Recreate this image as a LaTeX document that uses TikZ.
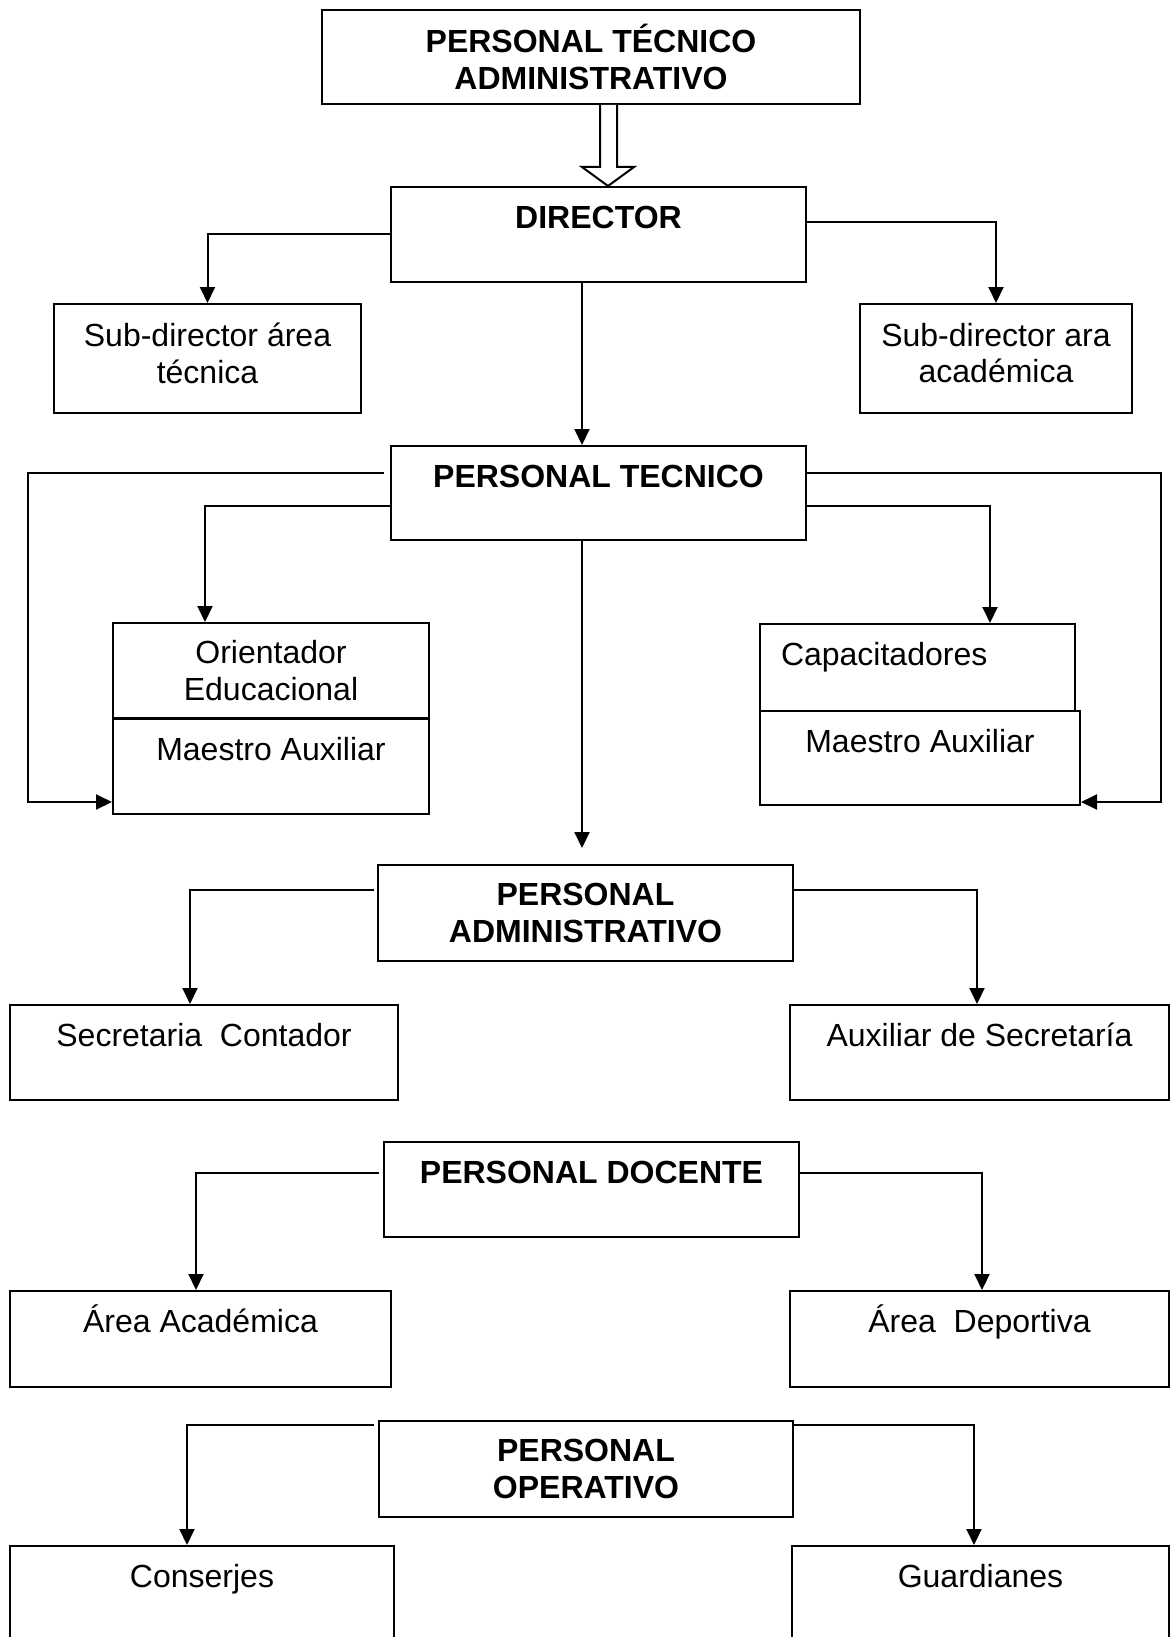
\documentclass[tikz,border=0pt]{standalone}
\usepackage{fontspec}
\setmainfont{Liberation Sans}
\usetikzlibrary{arrows.meta}

\begin{document}
\begin{tikzpicture}[
    x=0.5pt, y=-0.5pt,
    font=\fontsize{16}{18.4}\selectfont,
    box/.style={draw, line width=1pt, rectangle, inner sep=0pt, align=center},
    topbox/.style={box, anchor=north, text height=20.5pt, text depth=#1},
    heading/.style={font=\fontsize{16}{18.4}\selectfont\bfseries},
    arr/.style={line width=1pt, -{Triangle[length=8pt,width=7.5pt]}},
    hollow/.style={line width=1pt, fill=white, line join=miter}
]

\useasboundingbox (0,0) rectangle (1171,1637);
\clip (0,0) rectangle (1171,1637);

% Top level
\node[box, minimum width=269pt, minimum height=47pt, heading] (tpa) at (591,57) {PERSONAL TÉCNICO\\ADMINISTRATIVO};

\node[topbox=27pt, minimum width=207.5pt, heading] (dir) at (598.5,186) {DIRECTOR};

% Hollow arrow
\draw[hollow] (tpa.south -| 600,0) |- (582,167) -- (dir.north -| 608,0) -- (634,167) -| (tpa.south -| 617,0);

% Sub-directors
\node[box, minimum width=153.5pt, minimum height=54.5pt] (subtec) at (207.5,358.5) {Sub-director área\\técnica\rule[-5.5pt]{0pt}{0pt}};
\node[box, minimum width=136pt, minimum height=54.5pt] (subaca) at (996,358.5) {Sub-director ara\\académica\rule[-5.5pt]{0pt}{0pt}};

\draw[arr] (dir.west) -| (subtec.north);
\draw[arr] (dir.east |- 0,222) -| (subaca.north);

% Personal tecnico
\node[topbox=26.5pt, minimum width=207.5pt, heading] (ptec) at (598.5,445) {PERSONAL TECNICO};
\draw[arr] (dir.south -| 582,0) -- (ptec.north -| 582,0);

\node[box, minimum width=158pt, minimum height=47.5pt] (orient) at (271,670.5) {Orientador\\Educacional};
\node[topbox=27pt, minimum width=158pt] (maesL) at (271,718) {Maestro Auxiliar};

\node[topbox=23pt, minimum width=157.5pt, text width=136.5pt, inner xsep=10.5pt, align=left] (capac) at (917.5,623) {Capacitadores};
\node[topbox=26.5pt, minimum width=160pt] (maesR) at (920,710) {Maestro Auxiliar};

\coordinate (lrail) at (28,802);
\coordinate (rrail) at (1161,802);

\draw[arr, shorten <=3pt] (ptec.west |- 0,473) -| (lrail) -- (maesL.west |- lrail);
\draw[arr] (ptec.west |- 0,506) -| (orient.north -| 205,0);
\draw[arr] (ptec.east |- 0,473) -| (rrail) -- (maesR.east |- rrail);
\draw[arr] (ptec.east |- 0,506) -| (capac.north -| 990,0);

% Personal administrativo
\node[box, minimum width=207.5pt, minimum height=48pt, heading] (padm) at (585.5,913) {PERSONAL\\ADMINISTRATIVO};
\draw[arr, shorten >=8pt] (ptec.south -| 582,0) -- (padm.north -| 582,0);

\node[topbox=27pt, minimum width=194pt] (secre) at (204,1004) {Secretaria\ \ Contador};
\node[topbox=27pt, minimum width=189.5pt] (auxsec) at (979.5,1004) {Auxiliar de Secretaría};

\draw[arr, shorten <=1.5pt] (padm.west |- 0,890) -| (secre.north -| 190,0);
\draw[arr] (padm.east |- 0,890) -| (auxsec.north -| 977,0);

% Personal docente
\node[topbox=27pt, minimum width=207.5pt, heading] (pdoc) at (591.5,1141) {PERSONAL DOCENTE};

\node[topbox=27.5pt, minimum width=190.5pt] (areaaca) at (200.5,1290) {Área Académica};
\node[topbox=27.5pt, minimum width=189.5pt] (areadep) at (979.5,1290) {Área\ \ Deportiva};

\draw[arr, shorten <=2pt] (pdoc.west |- 0,1173) -| (areaaca.north -| 196,0);
\draw[arr] (pdoc.east |- 0,1173) -| (areadep.north -| 982,0);

% Personal operativo
\node[box, minimum width=207pt, minimum height=48pt, heading] (pope) at (586,1469) {PERSONAL\\OPERATIVO};

\node[topbox=60pt, minimum width=192pt] (consj) at (202,1545) {Conserjes};
\node[topbox=60pt, minimum width=188.5pt] (guard) at (980.5,1545) {Guardianes};

\draw[arr, shorten <=2pt] (pope.west |- 0,1425) -| (consj.north -| 187,0);
\draw[arr] (pope.east |- 0,1425) -| (guard.north -| 974,0);

\end{tikzpicture}
\end{document}
